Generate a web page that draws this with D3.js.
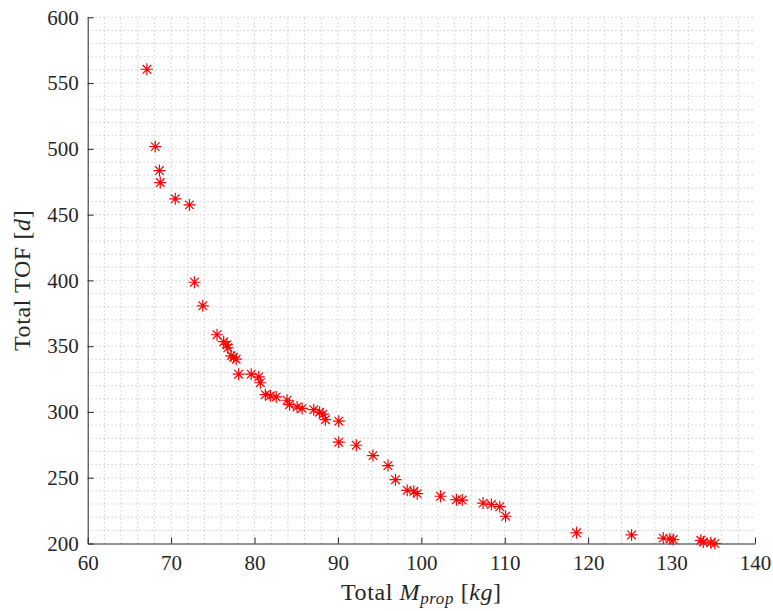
<!DOCTYPE html>
<html>
<head>
<meta charset="utf-8">
<script src="https://cdn.jsdelivr.net/npm/d3@7"></script>
<style>
  body { margin: 0; background: #fff; }
  svg text { font-family: "Liberation Serif", "DejaVu Serif", serif; fill: #262626; }
</style>
</head>
<body>
<div id="chart"></div>
<script>
// propellant mass [kg] vs total time of flight [d]
var massKg = [67.1, 68.1, 68.6, 68.7, 70.5, 72.2, 72.8, 73.8, 75.5, 76.3,
              76.7, 76.8, 77.2, 77.5, 77.8, 78.1, 79.6, 80.5, 80.7, 81.3,
              81.9, 82.6, 83.9, 84.2, 85.1, 85.7, 87.1, 87.8, 88.2, 88.5,
              90.1, 90.1, 92.2, 94.2, 96.0, 96.9, 98.3, 99.1, 99.5, 102.3,
              104.2, 104.9, 107.4, 108.4, 109.4, 110.1, 118.6, 125.2, 129.0, 129.8,
              130.2, 133.5, 133.8, 134.7, 135.2];
var tofDays = [560.5, 501.7, 483.5, 474.4, 462, 457.4, 398.6, 380.7, 358.7, 353.4,
               351.1, 348.8, 342.7, 341.6, 340.1, 328.7, 328.7, 326.6, 322.2, 313.1,
               312.3, 311.4, 308.9, 305.5, 303.8, 302.7, 301.7, 299.8, 298.3, 294.1,
               293, 277, 274.7, 266.8, 259.2, 248.5, 240.4, 239.7, 237.9, 235.9,
               233.3, 233, 230.7, 229.6, 228, 220.7, 208.1, 206.5, 204.1, 203.5,
               203, 202.4, 201.1, 200.5, 200];
var xTicks = [60, 70, 80, 90, 100, 110, 120, 130, 140];
var yTicks = [200, 250, 300, 350, 400, 450, 500, 550, 600];

var width = 773, height = 611;
var margin = {left: 87.7, right: 18, top: 17.3, bottom: 67.5};

var svg = d3.select('#chart').append('svg')
    .attr('width', width).attr('height', height);

var x = d3.scaleLinear().domain([60, 140]).range([margin.left, width - margin.right]);
var y = d3.scaleLinear().domain([200, 600]).range([height - margin.bottom, margin.top]);

// dotted grid (every 2 kg, every 10 d)
var gx = d3.range(62, 140, 2), gy = d3.range(210, 601, 10);
svg.append('g').selectAll('line').data(gx).enter().append('line')
   .attr('x1', function (d) { return x(d); }).attr('x2', function (d) { return x(d); })
   .attr('y1', y(200)).attr('y2', y(600))
   .attr('stroke', '#b4b4b4').attr('stroke-width', 1).attr('stroke-dasharray', '1,3');
svg.append('g').selectAll('line').data(gy).enter().append('line')
   .attr('y1', function (d) { return y(d); }).attr('y2', function (d) { return y(d); })
   .attr('x1', x(60)).attr('x2', x(140))
   .attr('stroke', '#b4b4b4').attr('stroke-width', 1).attr('stroke-dasharray', '1,3');

// axes with inward ticks
var xAxis = svg.append('g').attr('transform', 'translate(0,' + y(200) + ')')
   .call(d3.axisBottom(x).tickValues(xTicks).tickSizeInner(-6).tickSizeOuter(0).tickPadding(12));
var yAxis = svg.append('g').attr('transform', 'translate(' + x(60) + ',0)')
   .call(d3.axisLeft(y).tickValues(yTicks).tickSizeInner(-6).tickSizeOuter(0).tickPadding(9));

[xAxis, yAxis].forEach(function (a) {
  a.select('.domain').attr('stroke', '#262626').attr('stroke-width', 1);
  a.selectAll('.tick line').attr('stroke', '#262626');
  a.selectAll('.tick text').style('font-size', '21px').attr('fill', '#262626')
   .style('font-family', '"Liberation Serif", serif');
});

// asterisk markers
var r = 6, rd = 4.3;
var pts = svg.append('g').selectAll('g').data(massKg).enter().append('g')
   .attr('transform', function (d, i) { return 'translate(' + x(d) + ',' + y(tofDays[i]) + ')'; });
pts.append('path')
   .attr('d', 'M' + (-r) + ',0L' + r + ',0M0,' + (-r) + 'L0,' + r +
              'M' + (-rd) + ',' + (-rd) + 'L' + rd + ',' + rd +
              'M' + (-rd) + ',' + rd + 'L' + rd + ',' + (-rd))
   .attr('stroke', '#ff0000').attr('stroke-width', 1.2).attr('fill', 'none');

// axis labels
var xl = svg.append('text').attr('x', (x(60) + x(140)) / 2).attr('y', 600)
   .attr('text-anchor', 'middle').style('font-size', '24px').style('letter-spacing', '0.6px');
xl.append('tspan').text('Total ');
xl.append('tspan').style('font-style', 'italic').text('M');
xl.append('tspan').style('font-style', 'italic').style('font-size', '17px').attr('dy', 4).text('prop');
xl.append('tspan').attr('dy', -4).text(' [');
xl.append('tspan').style('font-style', 'italic').text('kg');
xl.append('tspan').text(']');

var yl = svg.append('text')
   .attr('transform', 'translate(30,' + ((y(200) + y(600)) / 2) + ') rotate(-90)')
   .attr('text-anchor', 'middle').style('font-size', '24px').style('letter-spacing', '0.6px');
yl.append('tspan').text('Total TOF [');
yl.append('tspan').style('font-style', 'italic').text('d');
yl.append('tspan').text(']');
</script>
</body>
</html>
